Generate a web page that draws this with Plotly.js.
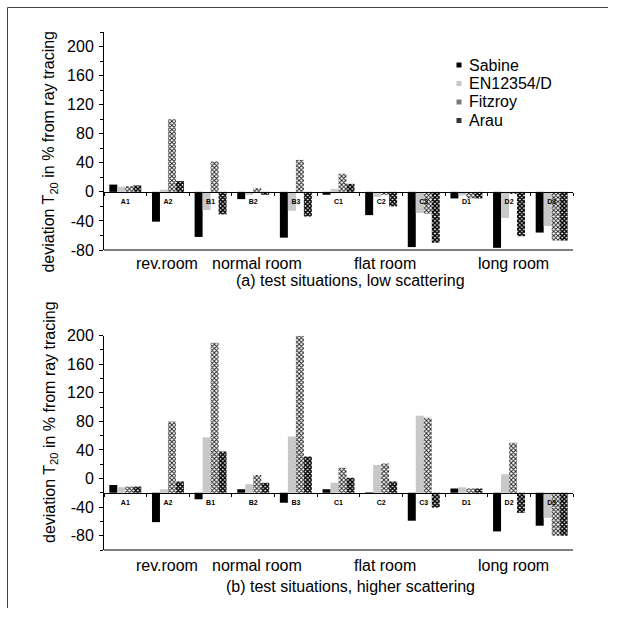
<!DOCTYPE html>
<html>
<head>
<meta charset="utf-8">
<script src="https://cdn.plot.ly/plotly-3.0.1.min.js"></script>
<style>
  html, body { margin: 0; padding: 0; background: #fff; }
  #chart { width: 617px; height: 619px; }
</style>
</head>
<body>
<div id="chart"></div>
<script>
// Test cases and room groups
const cases = ['A1', 'A2', 'B1', 'B2', 'B3', 'C1', 'C2', 'C3', 'D1', 'D2', 'D3'];
const rooms = ['rev.room', 'normal room', 'flat room', 'long room'];
const series = ['Sabine', 'EN12354/D', 'Fitzroy', 'Arau'];

// (a) low scattering: deviation of T20 in % from ray tracing
const lowSabine  = [10, -41, -62, -10, -63, -4, -32, -76, -9, -77, -56];
const lowEN      = [7, 3, -25, -4, -26, 4, -7, -29, -5, -36, -47];
const lowFitzroy = [8, 100, 42, 5, 44, 25, -4, -30, -9, -3, -67];
const lowArau    = [9, 15, -31, -4, -34, 11, -20, -70, -9, -61, -67];

// (b) higher scattering
const highSabine  = [-9, -61, -29, -15, -34, -15, -19, -59, -14, -74, -66];
const highEN      = [-12, -15, 58, -8, 59, -6, 19, 88, -12, 6, -55];
const highFitzroy = [-11, 80, 190, 5, 200, 15, 21, 85, -14, 50, -80];
const highArau    = [-11, -4, 38, -6, 31, 1, -4, -41, -14, -48, -80];

const yTickVals = [-80, -40, 0, 40, 80, 120, 160, 200];

// ---- page geometry ----
const W = 617, H = 619;
const M = { l: 104, r: 44, t: 32, b: 69 };
const pw = W - M.l - M.r, ph = H - M.t - M.b;
const py = p => (H - M.b - p) / ph;   // pixel row -> paper y
const px = p => (p - M.l) / pw;       // pixel column -> paper x

const topDomain = [py(250), 1];
const botDomain = [0, py(335.7)];
const topRange = [-80, 220];
const botRange = [-100, 200];
const topBase = 0;     // category axis crosses at 0
const botBase = -20;   // category axis crosses at -20

const axisPos = (dom, rng, v) =>
  dom[0] + (v - rng[0]) / (rng[1] - rng[0]) * (dom[1] - dom[0]);

const F = 'Arial, "Liberation Sans", sans-serif';

const styles = [
  { color: '#000000' },
  { color: '#c8c8c8' },
  { color: '#ffffff', pattern: { shape: 'x', fgcolor: '#1a1a1a', bgcolor: '#ffffff', size: 3, solidity: 0.5, fillmode: 'replace' } },
  { color: '#ffffff', pattern: { shape: 'x', fgcolor: '#000000', bgcolor: '#ffffff', size: 3, solidity: 0.75, fillmode: 'replace' } }
];

function bars(vals, i, xa, ya, base) {
  return {
    type: 'bar', x: cases, y: vals.map(v => v - base), base: base,
    name: series[i], xaxis: xa, yaxis: ya, showlegend: false, hoverinfo: 'skip',
    marker: Object.assign({ line: { width: 0 } }, styles[i])
  };
}

const data = [
  bars(lowSabine, 0, 'x', 'y', topBase),
  bars(lowEN, 1, 'x', 'y', topBase),
  bars(lowFitzroy, 2, 'x', 'y', topBase),
  bars(lowArau, 3, 'x', 'y', topBase),
  bars(highSabine, 0, 'x2', 'y2', botBase),
  bars(highEN, 1, 'x2', 'y2', botBase),
  bars(highFitzroy, 2, 'x2', 'y2', botBase),
  bars(highArau, 3, 'x2', 'y2', botBase)
];

function yAxis(dom, rng, anchor) {
  return {
    domain: dom, range: rng, anchor: anchor,
    showline: true, linecolor: '#000', linewidth: 1,
    ticks: 'outside', ticklen: 4, tickcolor: '#000',
    tickmode: 'array', tickvals: yTickVals, ticktext: yTickVals.map(String),
    ticklabelstandoff: 2,
    tickfont: { family: F, size: 16, color: '#000' },
    minor: { ticks: 'outside', ticklen: 3, dtick: 20, tick0: 0, tickcolor: '#000', showgrid: false },
    showgrid: false, zeroline: false, fixedrange: true
  };
}
function xAxis(pos) {
  return {
    type: 'category', anchor: 'free', position: pos, domain: [0, 1],
    range: [-0.5, cases.length - 0.5],
    showline: true, linecolor: '#000', linewidth: 1,
    ticks: 'outside', tickson: 'boundaries', ticklen: 3, tickcolor: '#000',
    ticklabelstandoff: 3,
    tickfont: { family: F, size: 7, weight: 'bold', color: '#000' },
    showgrid: false, zeroline: false, fixedrange: true
  };
}

// room group label positions on the category axis
const roomPos = [0.98, 3.1, 6.1, 9.1];

const annotations = [];
function groupLabels(yPix) {
  rooms.forEach((r, k) => annotations.push({
    text: r, xref: 'x', yref: 'paper', x: roomPos[k], y: py(yPix),
    xanchor: 'center', yanchor: 'middle', showarrow: false,
    font: { family: F, size: 16, color: '#000' }
  }));
}
groupLabels(263.5);
groupLabels(565);

function caption(text, yPix) {
  annotations.push({
    text: text, xref: 'paper', yref: 'paper', x: px(350), y: py(yPix),
    xanchor: 'center', yanchor: 'middle', showarrow: false,
    font: { family: F, size: 16, color: '#000' }
  });
}
caption('(a) test situations, low scattering', 280);
caption('(b) test situations, higher scattering', 586);

function yTitle(yPix) {
  annotations.push({
    text: 'deviation T<sub>20</sub> in % from ray tracing', textangle: -90,
    xref: 'paper', yref: 'paper', x: px(50), y: py(yPix),
    xanchor: 'center', yanchor: 'middle', showarrow: false,
    font: { family: F, size: 16, color: '#000' }
  });
}
yTitle(151.6);
yTitle(422);

// legend
const legendRows = [65, 83.5, 102, 120.5];
const legendFill = ['#000000', '#c8c8c8', '#7a7a7a', '#333333'];
const shapes = [];
series.forEach((s, k) => {
  annotations.push({
    text: s, xref: 'paper', yref: 'paper', x: px(467), y: py(legendRows[k]),
    xanchor: 'left', yanchor: 'middle', showarrow: false,
    font: { family: F, size: 16, color: '#000' }
  });
  shapes.push({
    type: 'rect', xref: 'paper', yref: 'paper',
    x0: px(456.5), x1: px(461.5), y0: py(legendRows[k] - 2.5), y1: py(legendRows[k] + 2.5),
    fillcolor: legendFill[k], line: { width: 0 }
  });
});

// lower border line of each panel
shapes.push({ type: 'line', xref: 'x domain', yref: 'y domain', x0: 0, x1: 1, y0: 0, y1: 0, line: { color: '#000', width: 1 } });
shapes.push({ type: 'line', xref: 'x2 domain', yref: 'y2 domain', x0: 0, x1: 1, y0: 0, y1: 0, line: { color: '#000', width: 1 } });

// page frame (top and left edges)
shapes.push({ type: 'line', xref: 'paper', yref: 'paper', x0: px(7.5), x1: px(608), y0: py(7.5), y1: py(7.5), line: { color: '#444', width: 1 } });
shapes.push({ type: 'line', xref: 'paper', yref: 'paper', x0: px(7.5), x1: px(7.5), y0: py(7.5), y1: py(608), line: { color: '#444', width: 1 } });

const layout = {
  width: W, height: H, margin: M,
  paper_bgcolor: '#fff', plot_bgcolor: 'rgba(0,0,0,0)',
  barmode: 'group', bargap: 0.25, bargroupgap: 0,
  showlegend: false,
  font: { family: F, color: '#000' },
  xaxis: xAxis(axisPos(topDomain, topRange, topBase)),
  yaxis: yAxis(topDomain, topRange, 'x'),
  xaxis2: xAxis(axisPos(botDomain, botRange, botBase)),
  yaxis2: yAxis(botDomain, botRange, 'x2'),
  annotations: annotations,
  shapes: shapes
};

Plotly.newPlot('chart', data, layout, { staticPlot: true, displayModeBar: false });
</script>
</body>
</html>
